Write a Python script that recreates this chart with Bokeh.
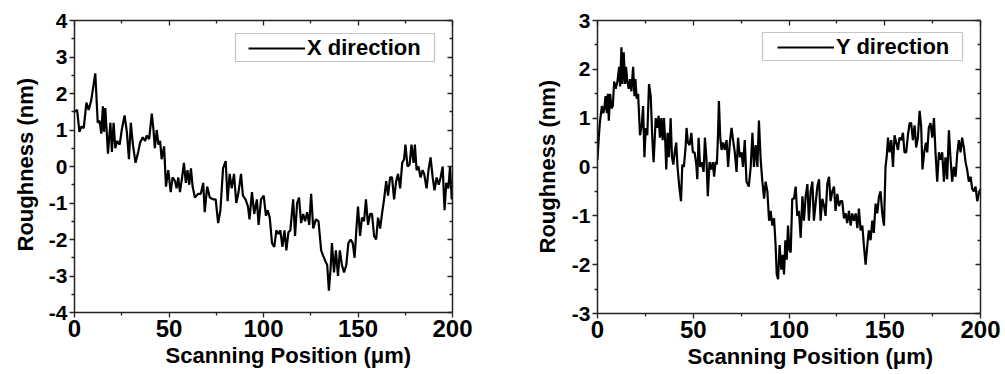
from bokeh.plotting import figure
from bokeh.layouts import row
from bokeh.models import (ColumnDataSource, FixedTicker, LinearAxis, Range1d,
                          Legend, LegendItem, Title, BoxAnnotation,
                          CustomLabelingPolicy)
from bokeh.embed import file_html
from bokeh.resources import INLINE

# ---- surface profile along X (position in um, height in nm) ----
x_pos = [0, 1.4, 2.6, 3.7, 4.9, 6.3, 7.5, 8.8, 11, 12.3, 13.3, 14.2, 15, 15.6, 16.3,
         17, 17.7, 19, 19.8, 20.7, 21.6, 22.5, 23.9, 25, 26.5, 27.7, 28.8, 29.8, 30.9,
         32.3, 33.7, 34.7, 36.1, 37.4, 38.2, 39.5, 40.9, 41.8, 42.5, 43.5, 44.4, 45.3,
         46.1, 47.4, 48.4, 49.6, 50.9, 51.9, 53.2, 54, 54.9, 55.8, 56.8, 57.9, 58.9,
         59.8, 60.7, 61.6, 62.5, 63.7, 65.4, 66.8, 68.1, 68.9, 70.2, 71.6, 73.3, 74.7,
         76, 77.2, 78.6, 80, 81, 82.1, 83.2, 84.4, 85.6, 86.8, 88.1, 89.1, 90.5, 91.8,
         92.6, 93.9, 95.1, 96.5, 97.4, 98.7, 100.1, 101.3, 102.2, 103.3, 104.5, 105.7,
         106.8, 107.9, 108.9, 110, 111.1, 112.1, 113.2, 114.2, 115.7, 116.7, 117.8,
         118.8, 119.9, 121, 122, 123.1, 124.2, 125.2, 126.3, 127.7, 129.1, 130.5, 131.6,
         132.8, 133.7, 134.6, 135.5, 136.2, 137.3, 138.3, 139.4, 140.4, 141.5, 142.6,
         143.8, 144.9, 146.1, 147.2, 148.2, 149.3, 150, 151.1, 152.1, 153.2, 154.2,
         155.3, 156.4, 157.4, 158.5, 159.6, 160.6, 161.7, 162.7, 163.8, 164.9, 165.9,
         167, 168, 169.1, 170.2, 171.2, 172.3, 173.4, 174.4, 175.1, 176.2, 177.3, 178.3,
         179.4, 180.1, 181, 182, 183.1, 184.2, 185, 186.3, 187.3, 188.4, 189.5, 190.5,
         191.6, 192.7, 193.7, 194.8, 195.8, 196.7, 197.8, 198.7, 199.6, 200]
x_rough = [1.5, 1.55, 0.95, 1.1, 1.05, 1.75, 1.55, 1.8, 2.55, 1.2, 1.25, 0.9, 1.65, 0.95,
           1.6, 1.0, 0.35, 1.2, 0.4, 1.2, 0.5, 0.7, 0.6, 1.0, 1.4, 0.95, 0.2, 1.2, 0.6,
           0.1, 0.4, 0.65, 0.8, 0.7, 0.85, 0.75, 1.45, 1.0, 0.5, 1.0, 0.6, 0.7, 0.2, 0.55,
           -0.55, -0.1, -0.7, -0.3, -0.4, -0.6, -0.3, -0.7, -0.35, 0.1, -0.45, -0.1, -0.5,
           -0.05, -0.55, -0.85, -0.75, -0.75, -0.45, -1.25, -0.55, -0.85, -0.9, -0.9,
           -1.55, -1.2, -0.05, 0.15, -0.95, -0.2, -0.6, -0.2, -1.0, -0.7, -0.2, -0.8, -0.9,
           -1.1, -1.45, -0.7, -1.3, -0.9, -1.6, -0.9, -0.8, -1.35, -1.2, -1.4, -2.1, -2.2,
           -1.75, -1.85, -1.75, -2.2, -1.75, -2.3, -1.8, -1.75, -0.9, -1.9, -1.0, -0.85,
           -1.55, -1.3, -1.5, -1.25, -1.6, -0.75, -1.7, -1.45, -1.5, -2.3, -2.45, -2.6,
           -2.7, -3.4, -2.8, -2.1, -2.9, -2.3, -3.0, -2.3, -2.7, -2.9, -2.7, -2.1, -2.0,
           -2.1, -2.5, -1.6, -1.1, -1.9, -1.4, -1.5, -0.9, -1.6, -1.3, -1.3, -1.9, -2.0,
           -1.4, -1.7, -1.3, -0.9, -0.4, -0.8, -0.3, -0.3, -0.9, -0.4, -0.2, -0.6, 0.1,
           0.2, 0.6, 0.0, 0.05, 0.6, 0.1, 0.6, -0.1, 0.0, -0.3, -0.1, -0.2, -0.6, -0.1,
           0.25, -0.3, -0.65, -0.3, -0.5, -0.3, 0.0, -1.2, -0.45, -0.6, 0.0, -0.9, -0.6]

# ---- surface profile along Y ----
y_pos = [0, 0.5, 1.2, 2.3, 3, 3.6, 4.2, 4.9, 5.4, 5.9, 6.6, 7.3, 8, 8.7, 9.5, 10.4, 11.3,
         11.8, 12.5, 13, 13.7, 14.4, 14.9, 15.6, 16.3, 17, 17.7, 18.6, 19.3, 19.8, 20.5,
         21.2, 22.2, 23.1, 23.8, 24.5, 25.2, 26, 26.9, 27.8, 28.6, 29.3, 30.4, 31.3,
         31.9, 32.6, 33.3, 34, 34.7, 35.4, 35.9, 36.6, 37.3, 38.2, 38.9, 39.6, 40.3,
         41.1, 41.8, 42.7, 43.6, 44.3, 45.1, 46, 46.5, 47.2, 48.1, 49, 49.8, 50.7, 51.6,
         52.1, 52.8, 53.6, 54.5, 55.4, 56.1, 56.9, 57.6, 58.5, 59.4, 60.2, 60.9, 61.6,
         62.3, 62.8, 63.4, 64.1, 64.8, 65.6, 66.5, 67.4, 68.2, 69.1, 70, 70.8, 71.7,
         72.6, 73.4, 74.3, 75.2, 76, 76.9, 77.8, 79, 80, 80.9, 81.7, 82.6, 83.5, 84.3,
         85.2, 86.1, 87, 87.8, 88.7, 89.6, 90.4, 91.3, 92.2, 93, 93.6, 94.3, 95.1, 96,
         96.7, 97.4, 98.1, 98.8, 99.5, 100.2, 100.9, 101.7, 102.6, 103.5, 104.3, 105.2,
         106.1, 107, 107.8, 108.7, 109.6, 110.4, 111.3, 112.2, 113, 113.9, 114.8, 115.7,
         116.5, 117.4, 118.3, 119.1, 120, 120.9, 121.7, 122.6, 123.5, 124.3, 125.2,
         126.1, 127, 127.8, 128.7, 129.6, 130.4, 131.3, 132.2, 133, 133.9, 134.8, 135.7,
         136.5, 137.4, 138.3, 139.1, 140, 140.9, 141.7, 142.6, 143.5, 144.3, 145.2,
         146.1, 147, 147.8, 148.7, 149.6, 150.4, 151, 151.7, 152.5, 153.4, 154.3, 155.1,
         156, 156.9, 157.7, 158.6, 159.5, 160.3, 161.2, 162.1, 163, 163.8, 164.7, 165.6,
         166.4, 167.3, 168.2, 169, 169.7, 170.6, 171.5, 172.2, 173, 173.9, 174.8, 175.7,
         176.5, 177.4, 178.3, 179.1, 180, 180.9, 181.7, 182.6, 183.5, 184.3, 185.2,
         186.1, 187, 187.8, 188.7, 189.6, 190.4, 191.3, 192.2, 193, 193.9, 194.8, 195.7,
         196.5, 197.4, 198.3, 199.1, 200]
y_rough = [0.15, 0.5, 0.9, 1.25, 1.1, 1.2, 1.45, 1.1, 1.5, 0.95, 1.5, 1.2, 1.25, 1.75, 1.6,
           1.75, 2.05, 1.65, 2.45, 1.7, 2.35, 1.7, 2.05, 1.75, 1.6, 1.8, 1.55, 2.05, 1.45,
           1.8, 1.4, 1.5, 0.65, 0.85, 1.25, 0.2, 0.8, 0.65, 1.7, 1.45, 0.6, 0.1, 1.0, 0.8,
           1.05, 0.6, 1.0, 0.55, 1.0, 0.5, -0.05, 0.7, 0.2, 1.0, 0.2, 0.05, 0.3, 0.5, 0.0,
           -0.4, -0.7, 0.05, 0.0, 0.4, 0.8, 0.5, 0.45, 0.7, 0.3, 0.3, 0.05, -0.25, 0.6,
           0.0, 0.1, -0.1, 0.6, 0.15, -0.6, 0.1, -0.05, 0.1, -0.2, 0.1, 0.05, 0.5, 1.35,
           0.6, 0.35, 0.5, 0.35, 0.55, 0.0, 0.5, 0.8, 0.55, 0.3, -0.1, 0.6, 0.2, 0.3, 0.0,
           0.55, -0.3, -0.4, 0.0, 0.7, 0.0, 0.45, 0.0, 0.95, 0.15, -0.3, -0.65, -0.3, -0.5,
           -1.1, -0.9, -1.2, -1.05, -1.6, -2.2, -2.3, -1.6, -2.1, -1.8, -2.2, -1.5, -1.9,
           -1.2, -1.7, -1.75, -0.65, -0.65, -0.4, -1.0, -0.9, -1.45, -0.6, -1.1, -0.6,
           -0.35, -1.1, -0.5, -0.3, -1.1, -0.75, -0.4, -0.25, -1.1, -0.65, -0.8, -1.0,
           -0.35, -0.2, -0.7, -0.5, -0.4, -0.9, -0.55, -0.8, -0.7, -0.7, -1.05, -0.95,
           -1.15, -0.9, -1.2, -0.95, -1.1, -0.95, -1.25, -0.85, -1.3, -1.2, -1.6, -2.0,
           -1.6, -1.3, -1.5, -1.1, -1.35, -0.75, -0.95, -0.6, -0.5, -0.95, -1.2, 0.0, 0.2,
           0.6, 0.3, 0.55, 0.0, 0.65, 0.5, 0.35, 0.6, 0.55, 0.7, 0.3, 0.3, 0.65, 0.9, 0.9,
           0.55, 0.85, 0.4, 0.6, 1.15, 0.85, -0.05, 0.3, 0.5, 0.3, 0.8, 0.9, 0.6, 1.0, 0.3,
           -0.3, 0.3, 0.15, 0.3, -0.3, 0.2, -0.25, 0.75, 0.2, -0.3, 0.0, -0.2, 0.25, 0.55,
           0.3, 0.6, 0.4, 0.1, -0.05, -0.3, -0.2, -0.45, -0.5, -0.4, -0.7, -0.55, -0.45]

# ---- axis ticks ----
x_major = [0, 50, 100, 150, 200]
x_minor = [25, 75, 125, 175]
left_y_major = [-4, -3, -2, -1, 0, 1, 2, 3, 4]
right_y_major = [-3, -2, -1, 0, 1, 2, 3]

FONT = "Liberation Sans"
AXIS_COLOR = "#222222"

# mirrored axes keep their ticks but draw no labels
NO_LABELS = CustomLabelingPolicy(
    code="for (const i of [...indices]) indices.unset(i); return indices")


def style_axis(ax, outward, show_labels, tick_font="20px"):
    ax.axis_line_color = AXIS_COLOR
    ax.axis_line_width = 1.5
    ax.major_tick_line_color = AXIS_COLOR
    ax.minor_tick_line_color = AXIS_COLOR
    ax.major_tick_line_width = 1.3
    ax.minor_tick_line_width = 1.3
    if outward:
        ax.major_tick_out, ax.major_tick_in = 5, 0
        ax.minor_tick_out, ax.minor_tick_in = 3, 0
    else:
        ax.major_tick_out, ax.major_tick_in = 0, 5
        ax.minor_tick_out, ax.minor_tick_in = 0, 3
    if show_labels:
        ax.major_label_text_font = FONT
        ax.major_label_text_font_style = "bold"
        ax.major_label_text_font_size = tick_font
        ax.major_label_text_color = "black"
    else:
        ax.major_label_policy = NO_LABELS
        ax.major_label_standoff = 0


def make_panel(xs, ys, y_major, legend_text, width, borders, frame,
               xlabel_offset, ylabel_offset, ylabel_standoff, legend_box, legend_at):
    y_lo, y_hi = y_major[0], y_major[-1]
    y_minor = [v + 0.5 for v in y_major[:-1]]
    left, right, top, bottom = borders
    p = figure(width=width, height=374, frame_width=frame[0], frame_height=frame[1],
               x_range=Range1d(0, 200), y_range=Range1d(y_lo, y_hi),
               output_backend="svg", toolbar_location=None,
               min_border_left=left, min_border_right=right,
               min_border_top=top, min_border_bottom=bottom)
    p.background_fill_color = "white"
    p.border_fill_color = "white"
    p.outline_line_color = None
    p.xgrid.visible = False
    p.ygrid.visible = False

    xa = p.xaxis[0]
    xa.ticker = FixedTicker(ticks=x_major, minor_ticks=x_minor)
    xa.major_label_overrides = {v: str(v) for v in x_major}
    style_axis(xa, True, True, tick_font="24px")
    xa.major_label_standoff = 2

    ya = p.yaxis[0]
    ya.ticker = FixedTicker(ticks=y_major, minor_ticks=y_minor)
    ya.major_label_overrides = {v: str(v) for v in y_major}
    style_axis(ya, True, True, tick_font="21px")
    ya.major_label_standoff = 2

    top_ax = LinearAxis(ticker=FixedTicker(ticks=x_major, minor_ticks=x_minor))
    style_axis(top_ax, False, False)
    p.add_layout(top_ax, "above")
    right_ax = LinearAxis(ticker=FixedTicker(ticks=y_major, minor_ticks=y_minor))
    style_axis(right_ax, False, False)
    p.add_layout(right_ax, "right")

    # axis titles
    p.add_layout(Title(text="Scanning Position (\u03bcm)", align="left",
                       offset=xlabel_offset, standoff=3,
                       text_font=FONT, text_font_style="bold",
                       text_font_size="22px", text_color="black"), "below")
    p.add_layout(Title(text="Roughness (nm)", align="left",
                       offset=ylabel_offset, standoff=ylabel_standoff,
                       text_font=FONT, text_font_style="bold",
                       text_font_size="22px", text_color="black"), "left")

    src = ColumnDataSource(data=dict(x=xs, y=ys))
    r = p.line("x", "y", source=src, line_color="black", line_width=2.2)

    bl, br, bb, bt = legend_box
    p.add_layout(BoxAnnotation(left=bl, right=br, bottom=bb, top=bt,
                               left_units="screen", right_units="screen",
                               bottom_units="screen", top_units="screen",
                               fill_color="white", fill_alpha=1,
                               line_color="#3a3a3a", line_width=1.2))
    legend = Legend(items=[LegendItem(label=legend_text, renderers=[r])],
                    location=legend_at, padding=2, spacing=0,
                    glyph_width=57, glyph_height=22, label_height=22,
                    label_standoff=2,
                    label_text_font=FONT, label_text_font_style="bold",
                    label_text_font_size="22px", label_text_color="black",
                    border_line_alpha=0, background_fill_alpha=0)
    p.add_layout(legend)
    return p


p_left = make_panel(x_pos, x_rough, left_y_major, "X direction",
                    500, (74, 48, 19, 63), (378, 292),
                    91, 61, 16, (161, 360, 251, 279), (172, 249))
p_right = make_panel(y_pos, y_rough, right_y_major, "Y direction",
                     505, (97, 25, 20, 61), (383, 293),
                     90, 60, 18, (165, 365, 253, 281), (178, 251))

layout = row(p_left, p_right)
open("out.html", "w").write(file_html(layout, INLINE))
